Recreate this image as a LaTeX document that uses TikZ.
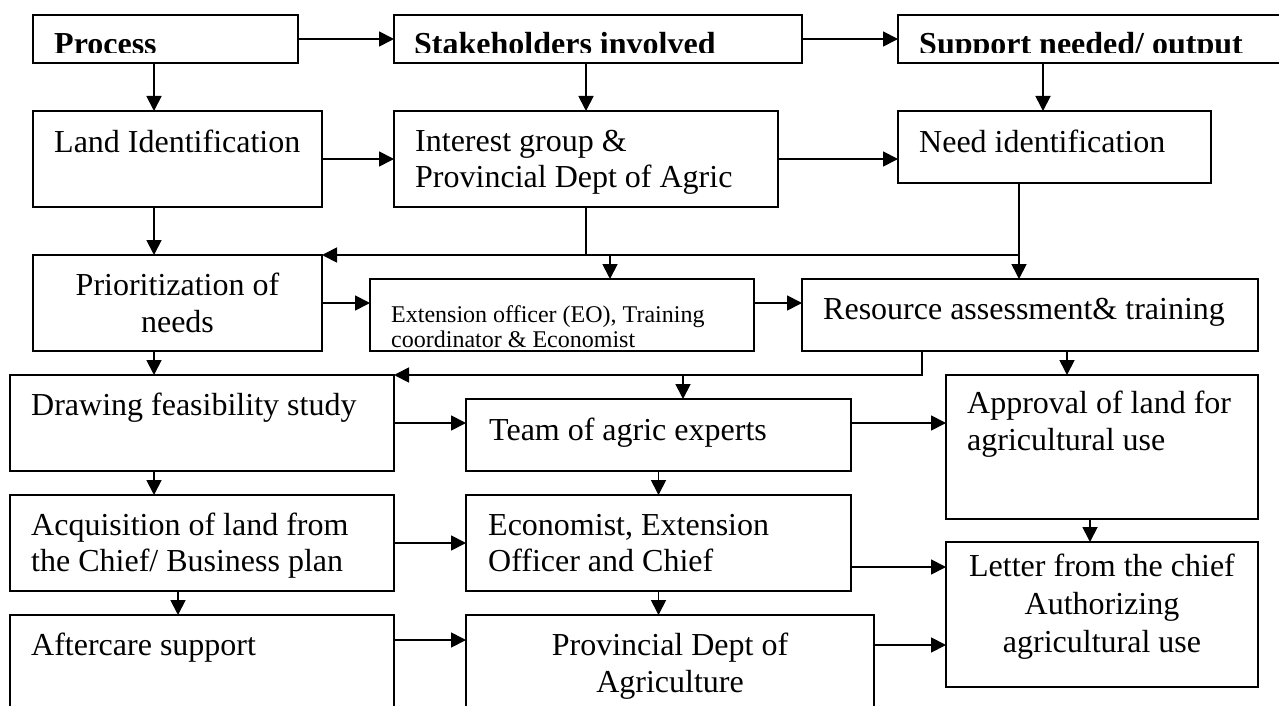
\documentclass[tikz,border=0pt]{standalone}
\usepackage{fontspec}
\setmainfont{Liberation Serif}
\usetikzlibrary{arrows.meta}
\begin{document}
\begin{tikzpicture}[x=1pt,y=-1pt,
  box/.style={draw, line width=1.8pt, rectangle, inner sep=0pt, outer sep=0pt, anchor=north west},
  arr/.style={line width=1.8pt, -{Triangle[length=15pt,width=15pt]}},
  ln/.style={line width=1.8pt},
  txt/.style={inner sep=0pt, anchor=base west, font=\fontsize{32pt}{37pt}\selectfont},
  ctxt/.style={inner sep=0pt, anchor=base, font=\fontsize{32pt}{37pt}\selectfont},
  stxt/.style={inner sep=0pt, anchor=base west, font=\fontsize{24pt}{26pt}\selectfont},
  htxt/.style={inner sep=0pt, anchor=base west, font=\fontsize{32pt}{37pt}\selectfont\bfseries}]
\useasboundingbox (0,0) rectangle (1279,706);
\fill[white] (0,0) rectangle (1279,706);
\clip (0,0) rectangle (1279,706);
% boxes
\node[box, minimum width=265pt, minimum height=48pt] (process) at (33,15) {};
\node[box, minimum width=408pt, minimum height=48pt] (stake) at (394,15) {};
\node[box, minimum width=402pt, minimum height=48pt] (support) at (898,15) {};
\node[box, minimum width=289pt, minimum height=96pt] (land) at (33,111) {};
\node[box, minimum width=384pt, minimum height=96pt] (interest) at (394,111) {};
\node[box, minimum width=313pt, minimum height=72pt] (need) at (898,111) {};
\node[box, minimum width=289pt, minimum height=96pt] (prior) at (33,255) {};
\node[box, minimum width=384pt, minimum height=72pt] (eo) at (370,279) {};
\node[box, minimum width=456pt, minimum height=72pt] (resource) at (802,279) {};
\node[box, minimum width=384pt, minimum height=96pt] (drawing) at (10,375) {};
\node[box, minimum width=385pt, minimum height=72pt] (team) at (466,399) {};
\node[box, minimum width=312pt, minimum height=144pt] (approval) at (946,375) {};
\node[box, minimum width=384pt, minimum height=96pt] (acq) at (10,495) {};
\node[box, minimum width=385pt, minimum height=96pt] (econ) at (466,495) {};
\node[box, minimum width=384pt, minimum height=120pt] (aftercare) at (10,615) {};
\node[box, minimum width=408pt, minimum height=120pt] (prov) at (466,615) {};
\node[box, minimum width=312pt, minimum height=145pt] (letter) at (946,542) {};
% header texts (clipped at the bottom)
\begin{scope}
\clip (0,0) rectangle (1279,53);
\node[htxt] (tprocess) at (54,55) {Process};
\node[htxt] (tstake) at (414,55) {Stakeholders involved};
\node[htxt] (tsupport) at (919,55) {Support needed/ output};
\end{scope}
% texts
\node[txt] (tland) at (54,152) {Land Identification};
\node[txt] (tint1) at (415,151) {Interest group \&};
\node[txt] (tint2) at (415,187) {Provincial Dept of Agric};
\node[txt] (tneed) at (919,152) {Need identification};
\node[ctxt] (tpri1) at (177.5,295) {Prioritization of};
\node[ctxt] (tpri2) at (177.5,332) {needs};
\node[stxt] (teo1) at (391,322) {Extension officer (EO), Training};
\node[stxt] (teo2) at (391,347) {coordinator \& Economist};
\node[txt] (tres) at (823,319) {Resource assessment\& training};
\node[txt] (tdraw) at (31,415) {Drawing feasibility study};
\node[txt] (tteam) at (489,440) {Team of agric experts};
\node[txt] (tapp1) at (967,413) {Approval of land for};
\node[txt] (tapp2) at (967,450) {agricultural use};
\node[txt] (tacq1) at (31,535) {Acquisition of land from};
\node[txt] (tacq2) at (31,571) {the Chief/ Business plan};
\node[txt] (tecon1) at (488,535) {Economist, Extension};
\node[txt] (tecon2) at (488,571) {Officer and Chief};
\node[txt] (taft) at (31,655) {Aftercare support};
\node[ctxt] (tprov1) at (670,655) {Provincial Dept of};
\node[ctxt] (tprov2) at (670,692) {Agriculture};
\node[ctxt] (tlet1) at (1102,576) {Letter from the chief};
\node[ctxt] (tlet2) at (1102,614) {Authorizing};
\node[ctxt] (tlet3) at (1102,652) {agricultural use};
% column / row coordinates
\coordinate (colA) at (154,0);
\coordinate (colB) at (178,0);
\coordinate (colSup) at (1043,0);
\coordinate (colN) at (1019,0);
\coordinate (colE) at (610,0);
\coordinate (colR) at (922,0);
\coordinate (colT) at (683,0);
\coordinate (colAp) at (1067,0);
\coordinate (colL) at (1090,0);
\coordinate (rowEL) at (0,567);
\coordinate (rowAP) at (0,640);
\coordinate (rowPL) at (0,645);
% connectors
\draw[arr] (process.east) -- (stake.west);
\draw[arr] (stake.east) -- (support.west);
\draw[arr] (process.south -| colA) -- (land.north -| colA);
\draw[arr] (interest.north |- stake.south) -- (interest.north);
\draw[arr] (support.south -| colSup) -- (need.north -| colSup);
\draw[arr] (land.east) -- (interest.west);
\draw[arr] (interest.east) -- (interest.east -| need.west);
\draw[arr] (land.south -| colA) -- (prior.north -| colA);
\draw[ln] (interest.south) -- (interest.south |- prior.north);
\draw[arr] (need.south -| colN) |- (prior.north east);
\draw[arr] (need.south -| colN) -- (resource.north -| colN);
\draw[arr] (prior.north -| colE) -- (eo.north -| colE);
\draw[arr] (prior.east) -- (prior.east -| eo.west);
\draw[arr] (eo.east |- prior.east) -- (resource.west |- prior.east);
\draw[arr] (prior.south -| colA) -- (drawing.north -| colA);
\draw[arr] (resource.south -| colR) |- (drawing.north east);
\draw[arr] (drawing.north -| colT) -- (team.north -| colT);
\draw[arr] (resource.south -| colAp) -- (approval.north -| colAp);
\draw[arr] (drawing.east) -- (drawing.east -| team.west);
\draw[arr] (team.east |- drawing.east) -- (approval.west |- drawing.east);
\draw[arr] (drawing.south -| colA) -- (acq.north -| colA);
\draw[arr] (team.south) -- (econ.north);
\draw[arr] (approval.south -| colL) -- (letter.north -| colL);
\draw[arr] (acq.east) -- (econ.west);
\draw[arr] (econ.east |- rowEL) -- (letter.west |- rowEL);
\draw[arr] (acq.south -| colB) -- (aftercare.north -| colB);
\draw[arr] (econ.south) -- (prov.north -| econ.south);
\draw[arr] (aftercare.east |- rowAP) -- (prov.west |- rowAP);
\draw[arr] (prov.east |- rowPL) -- (letter.west |- rowPL);
\end{tikzpicture}
\end{document}
